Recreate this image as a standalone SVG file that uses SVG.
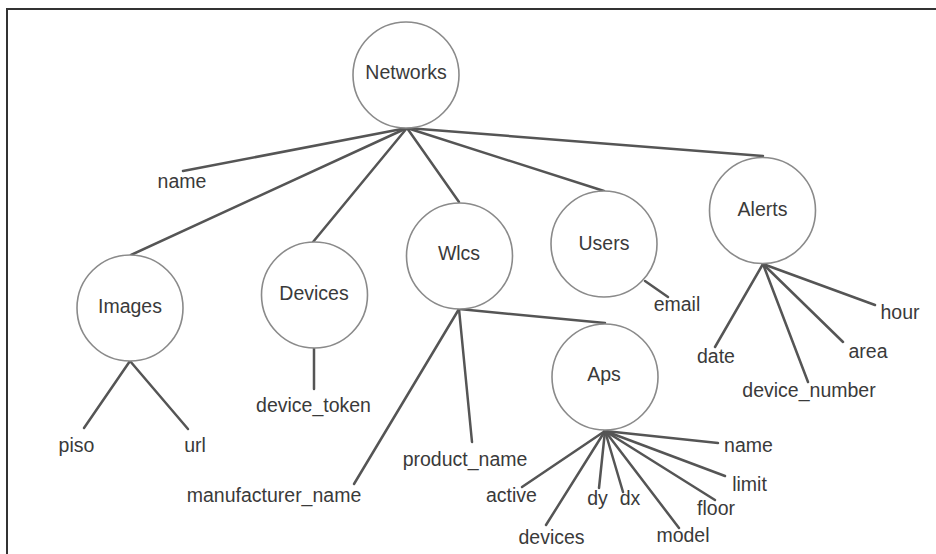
<svg xmlns="http://www.w3.org/2000/svg" width="936" height="554" viewBox="0 0 936 554">
<style>
.bg{fill:#fff}
.frame{fill:none;stroke:#333;stroke-width:2}
.node{fill:#fff;stroke:#8a8a8a;stroke-width:1.6}
.edge{stroke:#555;stroke-width:2.5;stroke-linecap:round;fill:none}
text{font-family:"Liberation Sans",Arial,sans-serif;font-size:19.5px;fill:#3a3a3a;text-anchor:middle}
</style>
<rect class="bg" x="0" y="0" width="936" height="554"/>
<path class="frame" d="M7,554 V9 H936"/>
<g id="connectors">
<line class="edge" x1="407" y1="128" x2="183" y2="171"/>
<line class="edge" x1="407" y1="128" x2="131" y2="255"/>
<line class="edge" x1="407" y1="128" x2="313" y2="242"/>
<line class="edge" x1="407" y1="128" x2="459" y2="202"/>
<line class="edge" x1="407" y1="128" x2="604" y2="191"/>
<line class="edge" x1="407" y1="128" x2="763" y2="156"/>
<line class="edge" x1="130" y1="361" x2="84" y2="428"/>
<line class="edge" x1="130" y1="361" x2="188" y2="429"/>
<line class="edge" x1="314" y1="348" x2="314" y2="389"/>
<line class="edge" x1="645" y1="281" x2="668" y2="297"/>
<line class="edge" x1="459" y1="309" x2="354" y2="484"/>
<line class="edge" x1="459" y1="309" x2="472" y2="442"/>
<line class="edge" x1="459" y1="309" x2="605" y2="323"/>
<line class="edge" x1="605" y1="431" x2="522" y2="487"/>
<line class="edge" x1="605" y1="431" x2="546" y2="525"/>
<line class="edge" x1="605" y1="431" x2="599" y2="488"/>
<line class="edge" x1="605" y1="431" x2="623" y2="492"/>
<line class="edge" x1="605" y1="431" x2="679" y2="528"/>
<line class="edge" x1="605" y1="431" x2="715" y2="500"/>
<line class="edge" x1="605" y1="431" x2="725" y2="476"/>
<line class="edge" x1="605" y1="431" x2="718" y2="443"/>
<line class="edge" x1="763" y1="264" x2="715" y2="347"/>
<line class="edge" x1="763" y1="264" x2="808" y2="382"/>
<line class="edge" x1="763" y1="264" x2="843" y2="342"/>
<line class="edge" x1="763" y1="264" x2="875" y2="305"/>
</g>
<g id="networks"><circle class="node" cx="406" cy="75" r="53"/><text x="406" y="79">Networks</text></g>
<g id="images"><circle class="node" cx="130" cy="308" r="53"/><text x="130" y="313">Images</text></g>
<g id="devices"><circle class="node" cx="314.5" cy="295" r="53"/><text x="314" y="300">Devices</text></g>
<g id="wlcs"><circle class="node" cx="459.5" cy="256" r="53"/><text x="459" y="260">Wlcs</text></g>
<g id="users"><circle class="node" cx="604" cy="244" r="53"/><text x="604" y="250">Users</text></g>
<g id="alerts"><circle class="node" cx="762.5" cy="210.5" r="53"/><text x="762.5" y="216">Alerts</text></g>
<g id="aps"><circle class="node" cx="605" cy="377" r="53"/><text x="604" y="381">Aps</text></g>
<g id="networks-name"><text x="182" y="188">name</text></g>
<g id="images-piso"><text x="76.5" y="452">piso</text></g>
<g id="images-url"><text x="195" y="452">url</text></g>
<g id="devices-device_token"><text x="313.5" y="412">device_token</text></g>
<g id="users-email"><text x="677" y="311">email</text></g>
<g id="wlcs-manufacturer_name"><text x="274" y="502">manufacturer_name</text></g>
<g id="wlcs-product_name"><text x="465" y="466">product_name</text></g>
<g id="alerts-date"><text x="716" y="363">date</text></g>
<g id="alerts-device_number"><text x="809" y="397">device_number</text></g>
<g id="alerts-area"><text x="868" y="358">area</text></g>
<g id="alerts-hour"><text x="900" y="319">hour</text></g>
<g id="aps-active"><text x="511.5" y="502">active</text></g>
<g id="aps-devices"><text x="551.5" y="544">devices</text></g>
<g id="aps-dy"><text x="597.5" y="505">dy</text></g>
<g id="aps-dx"><text x="630" y="505">dx</text></g>
<g id="aps-model"><text x="683" y="542">model</text></g>
<g id="aps-floor"><text x="716" y="515">floor</text></g>
<g id="aps-limit"><text x="749.5" y="491">limit</text></g>
<g id="aps-name"><text x="748.5" y="452">name</text></g>
</svg>
